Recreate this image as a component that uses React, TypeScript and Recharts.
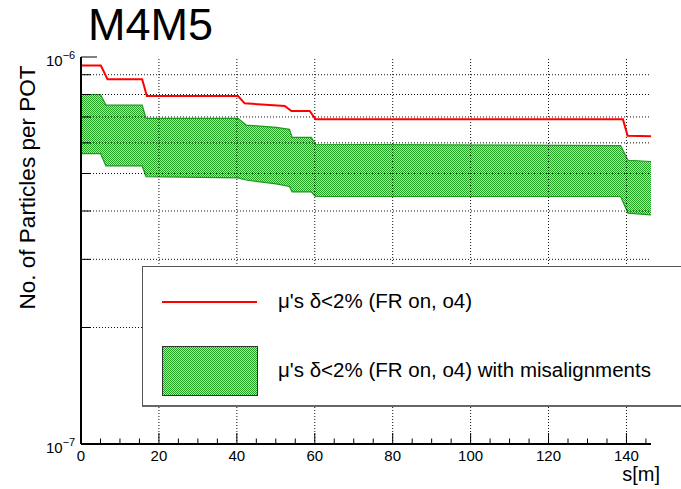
import React from 'react';
import { ComposedChart, XAxis, YAxis, Area, Line, ReferenceLine, Legend } from 'recharts';

const FONT = '"Liberation Sans", Arial, Helvetica, sans-serif';

// Red curve: mu's delta<2% (FR on, o4)
const redS = [0, 5.1, 6.8, 15.7, 16.9, 40.3, 42.0, 52.3, 54.0, 58.7, 60.2, 139.1, 140.3, 146.3];
const redFlux = [9.5e-7, 9.5e-7, 8.76e-7, 8.76e-7, 7.93e-7, 7.93e-7, 7.59e-7, 7.47e-7, 7.25e-7, 7.25e-7, 6.9e-7, 6.9e-7, 6.26e-7, 6.24e-7];

// Green band: with misalignments
const bandS = [0, 5.0, 6.4, 15.7, 16.7, 40.3, 42.4, 50.1, 53.5, 54.2, 59.1, 60.2, 138.5, 140.4, 146.3];
const bandHigh = [8.0e-7, 8.0e-7, 7.51e-7, 7.51e-7, 6.94e-7, 6.94e-7, 6.67e-7, 6.58e-7, 6.5e-7, 6.2e-7, 6.2e-7, 5.95e-7, 5.9e-7, 5.41e-7, 5.37e-7];
const bandLow = [5.63e-7, 5.63e-7, 5.23e-7, 5.23e-7, 4.91e-7, 4.87e-7, 4.81e-7, 4.7e-7, 4.63e-7, 4.48e-7, 4.48e-7, 4.36e-7, 4.36e-7, 3.95e-7, 3.91e-7];

const xDomain = [0, 146.3];
const xTicks = [0, 5, 10, 15, 20, 25, 30, 35, 40, 45, 50, 55, 60, 65, 70, 75, 80, 85, 90, 95, 100, 105, 110, 115, 120, 125, 130, 135, 140, 145];
const xLabelTicks = [0, 20, 40, 60, 80, 100, 120, 140];
const xGrid = [20, 40, 60, 80, 100, 120, 140];

const yDomain = [1e-7, 1e-6];
const yTicks = [1e-7, 2e-7, 3e-7, 4e-7, 5e-7, 6e-7, 7e-7, 8e-7, 9e-7, 1e-6];
const yGrid = [2e-7, 3e-7, 4e-7, 5e-7, 6e-7, 7e-7, 8e-7, 9e-7];
const yMajorTicks = [1e-7, 1e-6];
const yMajorBase = ['10', '10'];
const yMajorExp = ['\u22127', '\u22126'];

const title = 'M4M5';
const xTitle = 's[m]';
const yTitle = 'No. of Particles per POT';
const redName = "\u03bc's \u03b4<2% (FR on, o4)";
const bandName = "\u03bc's \u03b4<2% (FR on, o4) with misalignments";

const bandData = bandS.map((s, i) => ({ s, range: [bandLow[i], bandHigh[i]] }));
const redData = redS.map((s, i) => ({ s, v: redFlux[i] }));

const XTick = (props: any) => {
  const { x, y, payload } = props;
  const v = payload.value;
  const major = xLabelTicks.includes(v);
  return (
    <g>
      <line x1={x} x2={x} y1={y} y2={y - (major ? 11 : 5.5)} stroke="#000" strokeWidth={1} />
      {major && (
        <text x={x} y={y + 17} textAnchor="middle" fontSize={15} fontFamily={FONT} fill="#000">
          {v}
        </text>
      )}
    </g>
  );
};

const YTick = (props: any) => {
  const { x, y, payload } = props;
  const v = payload.value;
  const idx = yMajorTicks.findIndex((t) => Math.abs(t - v) / t < 1e-6);
  const major = idx >= 0;
  return (
    <g>
      <line x1={x} x2={x + (major ? 16 : 10)} y1={y} y2={y} stroke="#000" strokeWidth={1} />
      {major && (
        <text x={x - 35} y={y + 8.5} fontSize={15} fontFamily={FONT} fill="#000">
          {yMajorBase[idx]}
          <tspan fontSize={11} dy={-7}>
            {yMajorExp[idx]}
          </tspan>
        </text>
      )}
    </g>
  );
};

const renderYLabel = () => (
  <text x={35} y={187.5} transform="rotate(-90, 35, 187.5)" textAnchor="middle" fontSize={22.5} fontFamily={FONT} fill="#000">
    {yTitle}
  </text>
);

const renderXLabel = () => (
  <text x={660} y={481} textAnchor="end" fontSize={20} fontFamily={FONT} fill="#000">
    {xTitle}
  </text>
);

const HatchDef = ({ id }: { id: string }) => (
  <pattern id={id} x={0} y={0} width={2} height={2} patternUnits="userSpaceOnUse">
    <rect width={2} height={2} fill="#b4e0b4" />
    <rect width={1} height={1} fill="#24a024" />
    <rect x={1} y={1} width={1} height={1} fill="#24a024" />
  </pattern>
);

const renderLegend = () => (
  <div
    style={{
      position: 'relative',
      width: 539,
      height: 141,
      background: '#fff',
      borderTop: '1px solid #555',
      borderLeft: '1px solid #555',
      borderBottom: '2px solid #666',
      boxSizing: 'border-box',
      fontFamily: FONT,
      color: '#000',
    }}
  >
    <div style={{ position: 'absolute', left: 19, top: 34, width: 95, height: 2, background: '#ff0000' }} />
    <div style={{ position: 'absolute', left: 135, top: 24, fontSize: 20.5, lineHeight: '20px', whiteSpace: 'nowrap' }}>{redName}</div>
    <svg style={{ position: 'absolute', left: 19, top: 79 }} width={96} height={50}>
      <defs>
        <HatchDef id="greenHatchLegend" />
      </defs>
      <rect x={0.5} y={0.5} width={95} height={49} fill="url(#greenHatchLegend)" stroke="#333" strokeWidth={1} />
    </svg>
    <div style={{ position: 'absolute', left: 135, top: 93, fontSize: 20.5, lineHeight: '20px', whiteSpace: 'nowrap' }}>{bandName}</div>
  </div>
);

export default function App() {
  return (
    <div style={{ position: 'absolute', left: 0, top: 0, width: 681, height: 489, background: '#fff', overflow: 'hidden' }}>
      <ComposedChart width={681} height={489} data={bandData} margin={{ top: 57, right: 30, bottom: 15, left: 0 }}>
        <defs>
          <HatchDef id="greenHatch" />
        </defs>
        <XAxis
          dataKey="s"
          type="number"
          domain={xDomain}
          allowDataOverflow
          ticks={xTicks}
          interval={0}
          tick={<XTick />}
          tickLine={false}
          tickSize={0}
          tickMargin={0}
          height={30}
          axisLine={{ stroke: '#000', strokeWidth: 2 }}
          label={renderXLabel}
        />
        <XAxis
          xAxisId="top"
          orientation="top"
          type="number"
          domain={xDomain}
          allowDataOverflow
          height={0}
          tick={false}
          tickLine={false}
          axisLine={{ stroke: '#222', strokeWidth: 1.5 }}
        />
        <YAxis
          type="number"
          scale="log"
          domain={yDomain}
          allowDataOverflow
          ticks={yTicks}
          interval={0}
          tick={<YTick />}
          tickLine={false}
          tickSize={0}
          tickMargin={0}
          width={81}
          axisLine={{ stroke: '#000', strokeWidth: 2 }}
          label={renderYLabel}
        />
        <YAxis
          yAxisId="right"
          orientation="right"
          type="number"
          scale="log"
          domain={yDomain}
          allowDataOverflow
          width={0}
          tick={false}
          tickLine={false}
          axisLine={{ stroke: '#444', strokeWidth: 1.5 }}
        />
        {xGrid.map((v) => (
          <ReferenceLine key={'gx' + v} x={v} stroke="#111" strokeWidth={1} strokeDasharray="1 2" />
        ))}
        {yGrid.map((v) => (
          <ReferenceLine key={'gy' + v} y={v} stroke="#111" strokeWidth={1} strokeDasharray="1 2" />
        ))}
        <Area
          type="linear"
          dataKey="range"
          name={bandName}
          stroke="#1a9a1a"
          strokeWidth={1.2}
          fill="url(#greenHatch)"
          fillOpacity={1}
          dot={false}
          activeDot={false}
          isAnimationActive={false}
        />
        <Line
          data={redData}
          type="linear"
          dataKey="v"
          name={redName}
          stroke="#ff0000"
          strokeWidth={2}
          dot={false}
          activeDot={false}
          isAnimationActive={false}
        />
        <Legend
          layout="vertical"
          align="center"
          verticalAlign="middle"
          content={renderLegend}
          wrapperStyle={{ left: 142, top: 266, width: 539, height: 141 }}
        />
      </ComposedChart>
      <svg style={{ position: 'absolute', left: 0, top: 0, pointerEvents: 'none', overflow: 'visible' }} width={681} height={489}>
        <text x={88} y={40} fontSize={45} fontFamily={FONT} fill="#000">
          {title}
        </text>
      </svg>
    </div>
  );
}
